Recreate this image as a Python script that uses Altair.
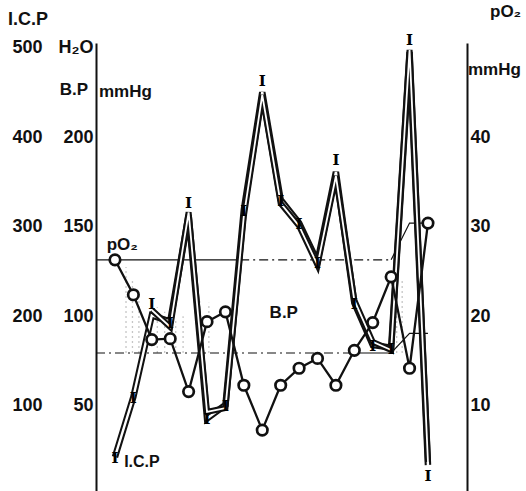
import altair as alt
import pandas as pd

# Sample index along the time course
t = list(range(18))
# Arterial pO2, mmHg (open circles)
po2 = [26.3, 22.4, 17.4, 17.5, 11.6, 19.4, 20.5, 12.3, 7.3, 12.3, 14.2, 15.3,
       12.3, 16.2, 19.3, 24.4, 14.2, 30.4]
# Intracranial pressure, mm H2O
icp = [43, 110, 201, 194, 313, 86, 101, 319, 450, 330, 304, 261, 361, 215,
       168, 165, 495, 34]
# Blood pressure, mmHg (from the third sample on)
bp_t = list(range(2, 18))
bp = [103.5, 94, 158, 46.6, 48.8, 156, 223.5, 163, 150.4, 128.6, 178.3, 109,
      85.7, 81.2, 248.6, 18.7]
# pO2 reference band, mmHg
band_t = [-1.03, 6.8, 13, 15, 16, 17]
band_hi = [26.3, 26.3, 26.3, 26.3, 30.4, 30.4]
band_lo = [15.9, 15.9, 15.9, 15.9, 18.1, 18.1]
# Faint hatching inside the band (sample positions and top of each stroke, mmHg)
hatch_t = [0.6, 0.95, 1.3, 2.3, 2.7, 3.3, 3.7, 4.6, 5.1, 15.3, 15.6]
hatch_top = [25.5, 24.0, 22.5, 21.0, 20.5, 19.5, 20.0, 22.0, 21.5, 25.0, 24.0]

# Tick values on the shared vertical scale (mm H2O = 2 x mmHg BP = 10 x mmHg pO2)
left_ticks = [100, 200, 300, 400, 500]
right_ticks = [100, 200, 300, 400]

INK = "#111111"
FONT = "Liberation Sans"

# Everything is plotted on one scale in mm H2O units
df_icp = pd.DataFrame({"t": t, "v": icp})
# "I" markers sit on each sample, lifted above local peaks and dropped below the last one
shift = [0.0] * len(icp)
for i in range(1, len(icp) - 1):
    if icp[i] > icp[i - 1] and icp[i] > icp[i + 1]:
        shift[i] = 14.0
shift[-1] = -11.0
df_icp["mc"] = [v + s for v, s in zip(icp, shift)]
df_bp = pd.DataFrame({"t": bp_t, "v": [b * 2 for b in bp]})
df_po2 = pd.DataFrame({"t": t, "v": [p * 10 for p in po2]})
df_band = pd.DataFrame({"t": band_t,
                        "hi": [b * 10 for b in band_hi],
                        "lo": [b * 10 for b in band_lo]})
df_hatch = pd.DataFrame({"t": hatch_t, "top": [h * 10 for h in hatch_top],
                         "bot": [band_lo[0] * 10] * len(hatch_t)})

X = alt.X("t:Q", scale=alt.Scale(domain=[-1.03, 19.12], nice=False, zero=False), axis=None)
YS = alt.Scale(domain=[5, 505], nice=False, zero=False)


def Y(field="v", axis=None):
    return alt.Y(f"{field}:Q", scale=YS, axis=axis)


ax_common = dict(ticks=False, grid=False, labelFont=FONT, labelFontWeight="bold",
                 labelFontSize=18, labelColor=INK, labelPadding=3,
                 labelOverlap=False, title=None, labelFlush=False)

axis_bp = alt.Axis(orient="left", values=left_ticks, domain=True, domainColor=INK,
                   domainWidth=2,
                   labelExpr="datum.value == 500 ? 'H₂O' : '' + datum.value / 2",
                   **ax_common)
axis_icp = alt.Axis(orient="left", values=left_ticks, domain=False, offset=51,
                    format="d", **ax_common)
axis_po2 = alt.Axis(orient="right", values=right_ticks, domain=True, domainColor=INK,
                    domainWidth=2, labelExpr="'' + datum.value / 10", **ax_common)

ticks_left = pd.DataFrame({"v": left_ticks})
ticks_right = pd.DataFrame({"v": right_ticks})

ax1 = alt.Chart(ticks_left).mark_point(opacity=0).encode(y=Y(axis=axis_bp))
ax2 = alt.Chart(ticks_left).mark_point(opacity=0).encode(y=Y(axis=axis_icp))
ax3 = alt.Chart(ticks_right).mark_point(opacity=0).encode(y=Y(axis=axis_po2))

# Faint dotted hatching between the band edges
hatch = alt.Chart(df_hatch).mark_rule(color="#a0a0a0", strokeWidth=1.3,
                                      strokeDash=[2, 3], opacity=0.6).encode(
    x=X, y=Y("bot"), y2="top:Q")

# Reference band edges
band = alt.Chart(df_band)
hi_solid = band.transform_filter("datum.t <= 6.8").mark_line(color=INK, strokeWidth=1.2).encode(x=X, y=Y("hi"))
hi_dash = band.transform_filter("datum.t >= 6.8 && datum.t <= 15").mark_line(
    color=INK, strokeWidth=1.2, strokeDash=[9, 4, 2, 4]).encode(x=X, y=Y("hi"))
hi_end = band.transform_filter("datum.t >= 15").mark_line(color=INK, strokeWidth=1.2).encode(x=X, y=Y("hi"))
lo_dash = band.transform_filter("datum.t <= 13").mark_line(
    color=INK, strokeWidth=1.2, strokeDash=[9, 4, 2, 4]).encode(x=X, y=Y("lo"))
lo_end = band.transform_filter("datum.t >= 13").mark_line(color=INK, strokeWidth=1.2).encode(x=X, y=Y("lo"))

# Hollow double-stroke traces for I.C.P and B.P
icp_out = alt.Chart(df_icp).mark_line(color=INK, strokeWidth=6.5).encode(x=X, y=Y())
icp_in = alt.Chart(df_icp).mark_line(color="white", strokeWidth=2.4).encode(x=X, y=Y())
bp_out = alt.Chart(df_bp).mark_line(color=INK, strokeWidth=6).encode(x=X, y=Y())
bp_in = alt.Chart(df_bp).mark_line(color="white", strokeWidth=1.8).encode(x=X, y=Y())

# "I" shaped sample markers on the I.C.P trace
m_text = alt.Chart(df_icp).mark_text(text="I", font="DejaVu Serif", fontWeight="bold",
                                     fontSize=15, color="black", baseline="middle",
                                     dy=1).encode(x=X, y=Y("mc"))

# pO2 line with open circles
po2_line = alt.Chart(df_po2).mark_line(color=INK, strokeWidth=2.3).encode(x=X, y=Y())
po2_pts = alt.Chart(df_po2).mark_point(shape="circle", size=110, filled=False, fill="white",
                                       fillOpacity=1, stroke=INK, strokeWidth=2.7,
                                       opacity=1).encode(x=X, y=Y())

one = pd.DataFrame({"a": [0]})


def label(text, x, y, align="left", size=17):
    return alt.Chart(one).mark_text(text=text, font=FONT, fontWeight="bold", fontSize=size,
                                    color=INK, align=align, baseline="middle").encode(
        x=alt.value(x), y=alt.value(y))


def data_label(text, tx, v, size=17):
    return alt.Chart(pd.DataFrame({"t": [tx], "v": [v]})).mark_text(
        text=text, font=FONT, fontWeight="bold", fontSize=size, color=INK,
        align="left", baseline="middle").encode(x=X, y=Y())


texts = [
    label("I.C.P", -88, -23, size=18),
    label("B.P", -8, 47, align="right"),
    label("mmHg", 3, 49),
    label("pO₂", 394, -31),
    label("mmHg", 372, 27),
    data_label("pO₂", -0.45, 280),
    data_label("B.P", 8.4, 204),
    data_label("I.C.P", 0.5, 37, size=16),
]

chart = alt.layer(
    ax1, ax2, ax3,
    hatch,
    hi_solid, hi_dash, hi_end, lo_dash, lo_end,
    icp_out, icp_in, bp_out, bp_in,
    m_text,
    po2_line, po2_pts,
    *texts,
).resolve_axis(y="independent").properties(
    width=371, height=448,
    padding={"left": 96, "top": 43, "right": 59, "bottom": 0},
    autosize=alt.AutoSizeParams(type="none"),
    background="white",
).configure_view(strokeWidth=0)

chart.save("out.html", embed_options={"renderer": "svg", "actions": False})
